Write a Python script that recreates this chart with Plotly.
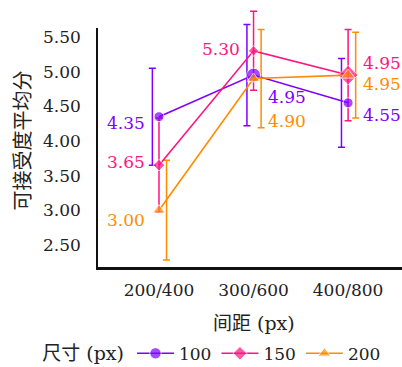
import plotly.graph_objects as go

# ---- data ----
categories = ["200/400", "300/600", "400/800"]
series_names = ["100", "150", "200"]
mean_100 = [4.35, 4.95, 4.55]
mean_150 = [3.65, 5.30, 4.95]
mean_200 = [3.00, 4.90, 4.95]
err_100 = [0.70, 0.73, 0.64]
err_150 = [0.68, 0.57, 0.66]
err_200 = [0.72, 0.71, 0.62]
y_ticks = [2.5, 3.0, 3.5, 4.0, 4.5, 5.0, 5.5]
y_ticktext = ["2.50", "3.00", "3.50", "4.00", "4.50", "5.00", "5.50"]

FONT = "DejaVu Serif, Noto Sans CJK SC"
FS = 17
FT = 19
colors = ["#7f00ff", "#ff1480", "#ff8c00"]
symbols = ["circle", "diamond", "triangle-up"]
marker_sizes = [[10, 14, 10], [9, 8, 15], [11, 11, 12]]
err_offsets = [-0.07, 0.0, 0.08]
means = [mean_100, mean_150, mean_200]
errs = [err_100, err_150, err_200]
label_pos = [
    [("right", -12, -6), ("left", 12, -22), ("left", 13, -12)],
    [("right", -12, 3), ("right", -12, 2), ("left", 13, 12)],
    [("right", -12, -10), ("left", 12, -42), ("left", 13, -9)],
]

idx = list(range(len(categories)))
XR = [-0.645, 2.57]
YR = [2.18, 5.63]
TOP_DOM = 0.9228
YR2 = [YR[0], YR[0] + (YR[1] - YR[0]) / TOP_DOM]

fig = go.Figure()
fig.add_trace(go.Scatter(x=[idx[0]], y=[YR[0]], mode="markers",
                         marker=dict(size=1, color="rgba(0,0,0,0)"),
                         showlegend=False, hoverinfo="skip"))

for k in range(3):
    fig.add_trace(go.Scatter(
        x=[i + err_offsets[k] for i in idx], y=means[k],
        xaxis="x2", yaxis="y2",
        mode="markers", marker=dict(size=1, color="rgba(0,0,0,0)"),
        error_y=dict(type="data", array=errs[k], color=colors[k],
                     thickness=1.5, width=3.5, visible=True),
        showlegend=False, hoverinfo="skip"))

for k in range(3):
    fig.add_trace(go.Scatter(
        x=idx, y=means[k], name=series_names[k],
        xaxis="x2", yaxis="y2",
        mode="lines+markers", cliponaxis=False,
        line=dict(color=colors[k], width=1.6),
        marker=dict(symbol=symbols[k], size=marker_sizes[k], color=colors[k]),
    ))

annotations = []
for k in range(3):
    for i in idx:
        xa, xs, ys = label_pos[k][i]
        annotations.append(dict(
            x=i, y=means[k][i], xref="x", yref="y",
            text=f"{means[k][i]:.2f}", showarrow=False,
            xanchor=xa, yanchor="middle", xshift=xs, yshift=ys,
            font=dict(family=FONT, size=FS, color=colors[k])))

annotations.append(dict(
    x=0, y=0.5 * TOP_DOM, xref="paper", yref="paper", text="可接受度平均分",
    showarrow=False, textangle=-90, xanchor="center", yanchor="middle",
    xshift=-77, yshift=7, font=dict(family="Noto Sans CJK SC", size=20, color="#222")))
annotations.append(dict(
    x=1, y=0, xref="x", yref="paper", text="间距 (px)",
    showarrow=False, xanchor="center", yanchor="middle",
    yshift=-56, font=dict(family=FONT, size=FT, color="#222")))

fig.update_layout(
    width=402, height=367,
    margin=dict(l=98, r=0, t=8, b=100, autoexpand=False),
    paper_bgcolor="white", plot_bgcolor="white",
    font=dict(family=FONT, size=FS, color="#222"),
    annotations=annotations,
    legend=dict(orientation="h", x=-0.19, xanchor="left", y=-0.335,
                yanchor="middle", title=dict(text="尺寸 (px)", side="left",
                font=dict(family=FONT, size=FT, color="#222")),
                font=dict(family=FONT, size=FS, color="#222"),
                itemwidth=37, bgcolor="rgba(0,0,0,0)"),
    xaxis=dict(range=XR, domain=[0, 1], tickmode="array", tickvals=idx,
               ticktext=categories, ticks="inside", ticklen=4,
               tickfont=dict(family=FONT, size=FS),
               tickcolor="#222", showline=True, linecolor="#111",
               linewidth=2.5, showgrid=False, zeroline=False,
               ticklabelstandoff=6, fixedrange=True, automargin=False),
    yaxis=dict(range=YR, domain=[0, TOP_DOM], tickmode="array", tickvals=y_ticks,
               ticktext=y_ticktext, ticks="", showline=True,
               tickfont=dict(family=FONT, size=FS),
               linecolor="#111", linewidth=1.5, showgrid=True,
               gridcolor="#b4b4b4", gridwidth=1.2, zeroline=False,
               ticklabelstandoff=12, fixedrange=True, automargin=False),
    xaxis2=dict(range=XR, domain=[0, 1], anchor="y2", visible=False,
                fixedrange=True),
    yaxis2=dict(range=YR2, domain=[0, 1], anchor="x2", visible=False,
                fixedrange=True),
)

fig.write_html("out.html", config={"displayModeBar": False},
               post_script="document.body.style.margin='0';document.body.style.padding='0';")
